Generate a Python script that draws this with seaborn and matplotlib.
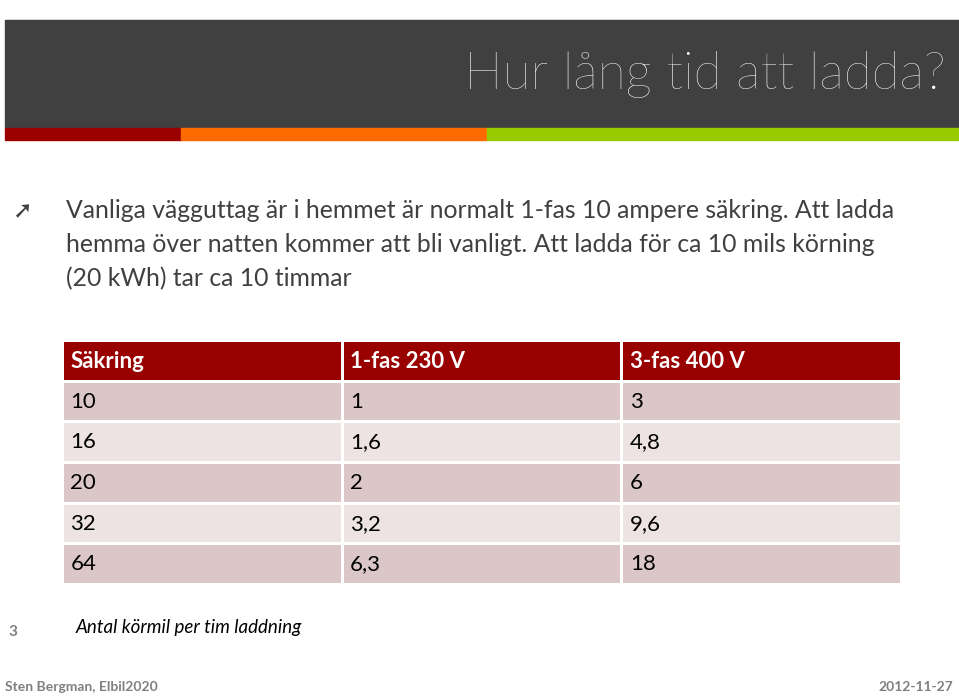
import numpy as np
import matplotlib
matplotlib.use("Agg")
import matplotlib.pyplot as plt
from matplotlib.colors import ListedColormap
from matplotlib.patches import Rectangle
import seaborn as sns

# table data
headers = ["Säkring", "1-fas 230 V", "3-fas 400 V"]
sakring = ["10", "16", "20", "32", "64"]
fas1 = ["1", "1,6", "2", "3,2", "6,3"]
fas3 = ["3", "4,8", "6", "9,6", "18"]

title = "Hur lång tid att ladda?"
body = ["Vanliga vägguttag är i hemmet är normalt 1-fas 10 ampere säkring. Att ladda",
        "hemma över natten kommer att bli vanligt. Att ladda för ca 10 mils körning",
        "(20 kWh) tar ca 10 timmar"]
note = "Antal körmil per tim laddning"

W, H = 959, 696
fig = plt.figure(figsize=(W / 100, H / 100), dpi=100)
fig.patch.set_facecolor("white")
bg = fig.add_axes([0, 0, 1, 1])
bg.set_xlim(0, W)
bg.set_ylim(H, 0)
bg.axis("off")

# header band and colour strip
bg.add_patch(Rectangle((5, 20), W - 5, 108, color="#404040"))
bg.add_patch(Rectangle((5, 128), 176, 12, color="#9b0000"))
bg.add_patch(Rectangle((181, 128), 306, 12, color="#ff6a00"))
bg.add_patch(Rectangle((487, 128), W - 487, 12, color="#99cc00"))
bg.text(945, 75, title, color="white", fontsize=37, ha="right", va="center",
        family="Lato", weight="light")

# bullet text
bg.text(12, 211, "➚", color="#404040", fontsize=17, ha="left", va="center",
        family="DejaVu Sans", weight="bold")
for i, line in enumerate(body):
    bg.text(66, 211 + i * 34, line, color="#404040", fontsize=17.8, ha="left", va="center", family="Lato")

# table as heatmap
rows = [headers] + [list(r) for r in zip(sakring, fas1, fas3)]
kind = np.array([[2] * 3] + [[i % 2] * 3 for i in range(len(sakring))])
ax = fig.add_axes([62 / W, 1 - 584 / H, 839 / W, 244 / H])
sns.heatmap(kind, ax=ax, cmap=ListedColormap(["#dbc7c7", "#ede3e3", "#990000"]),
            vmin=0, vmax=2, cbar=False, linewidths=2, linecolor="white")
ax.set_xticks([])
ax.set_yticks([])
for i, r in enumerate(rows):
    for j, v in enumerate(r):
        ax.text(j + 0.03, i + 0.52, v, ha="left", va="center", fontsize=16, family="Lato",
                color="white" if i == 0 else "black", weight="bold" if i == 0 else "normal")

# footer
bg.text(8, 632, "3", color="#808080", fontsize=11, ha="left", va="center", family="Lato", weight="bold")
bg.text(76, 628, note, color="black", fontsize=13.5, ha="left", va="center", family="Lato", style="italic")
bg.text(5, 687, "Sten Bergman, Elbil2020", color="#808080", fontsize=10, ha="left", va="center", family="Lato", weight="bold")
bg.text(953, 687, "2012-11-27", color="#808080", fontsize=10, ha="right", va="center", family="Lato", weight="bold")

fig.savefig("out.png", dpi=100)
